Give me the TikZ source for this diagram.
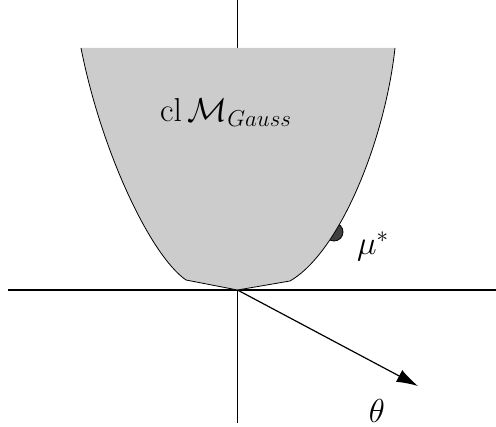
\documentclass[tikz,border=0pt]{standalone}
\usetikzlibrary{arrows.meta}
\definecolor{setgray}{RGB}{204,204,204}
\definecolor{dotgray}{RGB}{64,64,64}

\begin{document}
\begin{tikzpicture}[x=0.75pt,y=-0.75pt]
    \useasboundingbox (0,0) rectangle (496,427);
    \tikzset{axis/.style={line width=0.9pt}, boundary/.style={line width=0.6pt}}
    % axes
    \coordinate (O) at (237.5,290);
    \coordinate (xl) at (8,290);
    \coordinate (xr) at (496,290);
    \coordinate (yt) at (237.5,0);
    \coordinate (yb) at (237.5,423);
    \coordinate (tip) at (418,386);
    % corners of the set
    \coordinate (tl) at (81,48);
    \coordinate (bl) at (186,280);
    \coordinate (br) at (290,281);
    \coordinate (tr) at (395,48);
    \draw[axis] (xl) -- (xr);
    \draw[axis] (yt) -- (yb);
    % the point, half hidden by the set
    \draw[boundary,fill=dotgray] (334,232) circle (9);
    % the set
    \fill[setgray] (tl) .. controls (101,150) and (150,255) .. (bl) -- (O) -- (br)
        .. controls (340,252) and (385,140) .. (tr) -- cycle;
    \draw[boundary] (tl) .. controls (101,150) and (150,255) .. (bl) -- (O) -- (br)
        .. controls (340,252) and (385,140) .. (tr);
    % direction
    \draw[axis,-{Latex[length=16pt,width=10pt]}] (O) -- (tip);
    \node (setlabel) at (226,112) {\fontsize{23}{27}\selectfont $\mathrm{cl}\,\mathcal{M}_{Gauss}$};
    \node (mulabel) at (373,246) {\fontsize{26}{30}\selectfont $\mu^*$};
    \node (thetalabel) at (377,411) {\fontsize{26}{30}\selectfont $\theta$};
\end{tikzpicture}
\end{document}
